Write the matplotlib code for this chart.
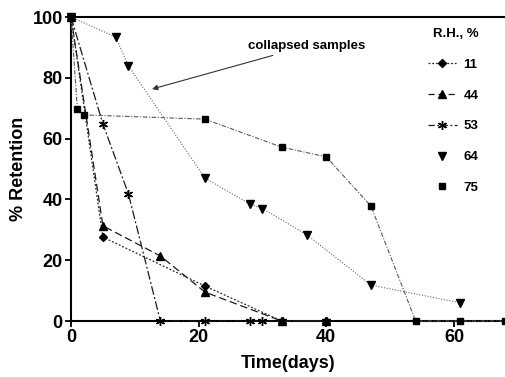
"""
% Retention vs time at different relative humidities.
"""
import matplotlib
matplotlib.use("Agg")
import matplotlib.pyplot as plt
from matplotlib.lines import Line2D

# RH 11 %
DAYS_11 = [0, 5, 21, 33, 40]
RET_11 = [100, 27.6, 11.5, 0, 0]
# RH 44 %
DAYS_44 = [0, 5, 14, 21, 33, 40]
RET_44 = [100, 31.3, 21.4, 9.5, 0, 0]
# RH 53 %
DAYS_53 = [0, 5, 9, 14, 21, 28, 30, 33, 40]
RET_53 = [100, 64.8, 41.8, 0, 0, 0, 0, 0, 0]
# RH 64 %
DAYS_64 = [0, 7, 9, 21, 28, 30, 37, 47, 61]
RET_64 = [100, 93.4, 83.9, 47, 38.5, 37, 28.3, 11.8, 6]
# RH 75 %
DAYS_75 = [0, 1, 2, 21, 33, 40, 47, 54, 61, 68]
RET_75 = [100, 69.7, 67.8, 66.4, 57.2, 54, 37.8, 0, 0, 0]

RH_LABELS = ["11", "44", "53", "64", "75"]

plt.rcParams["font.family"] = ["Liberation Sans", "DejaVu Sans"]
plt.rcParams["font.weight"] = "bold"

fig = plt.figure(figsize=(5.05, 3.77), dpi=100)
ax = fig.add_axes([0.1406, 0.1485, 0.8594, 0.8064])

ax.plot(DAYS_11, RET_11, color="0.15", lw=0.9, ls=(0, (1.5, 1.5)),
        marker="D", ms=4, mfc="black", mec="black", clip_on=False, zorder=3)
ax.plot(DAYS_44, RET_44, color="0.1", lw=0.9, ls=(0, (6, 3)),
        marker="^", ms=5.5, mfc="black", mec="black", clip_on=False, zorder=3)
ax.plot(DAYS_53, RET_53, color="0.1", lw=0.9, ls=(0, (7, 2, 1.5, 2)),
        marker=(6, 2, 0), ms=6.5, mfc="black", mec="black", mew=1.0, clip_on=False, zorder=3)
ax.plot(DAYS_64, RET_64, color="0.4", lw=0.8, ls=(0, (1, 1.5)),
        marker="v", ms=5.5, mfc="black", mec="black", clip_on=False, zorder=3)
ax.plot(DAYS_75, RET_75, color="0.35", lw=0.8, ls=(0, (4, 1.5, 1, 1.5)),
        marker="s", ms=5, mfc="black", mec="black", clip_on=False, zorder=3)

ax.set_xlim(0, 68.0)
ax.set_ylim(0, 100)
ax.set_xticks([0, 20, 40, 60])
ax.set_yticks([0, 20, 40, 60, 80, 100])
for s in ["left", "bottom", "top"]:
    ax.spines[s].set_linewidth(1.5)
ax.spines["right"].set_visible(False)
ax.tick_params(direction="out", length=4, width=1.3, labelsize=13, pad=2)
for lab in ax.get_xticklabels() + ax.get_yticklabels():
    lab.set_fontweight("bold")

ax.set_xlabel("Time(days)", fontsize=13, fontweight="bold", labelpad=6)
ax.set_ylabel("% Retention", fontsize=13, fontweight="bold", labelpad=4)

ax.annotate("collapsed samples", xy=(12.7, 76.3), xytext=(27.8, 90.5),
            fontsize=9.5, fontweight="bold", va="center", ha="left",
            arrowprops=dict(arrowstyle="-|>", color="0.2", lw=0.8,
                            mutation_scale=8, shrinkA=2, shrinkB=0))

handles = [
    Line2D([], [], color="0.15", lw=0.9, ls=(0, (1.5, 1.5)), marker="D", ms=4,
           mfc="black", mec="black"),
    Line2D([], [], color="0.1", lw=0.9, ls=(0, (5, 3)), marker="^", ms=5.5,
           mfc="black", mec="black"),
    Line2D([], [], color="0.1", lw=0.9, ls=(0, (5, 2, 1.5, 2)), marker=(6, 2, 0), ms=6.5,
           mfc="black", mec="black"),
    Line2D([], [], ls="none", marker="v", ms=5.5, mfc="black", mec="black"),
    Line2D([], [], ls="none", marker="s", ms=5, mfc="black", mec="black"),
]
leg = ax.legend(handles, RH_LABELS, title="R.H., %", loc="upper left",
                bbox_to_anchor=(0.81, 0.98), frameon=False, fontsize=9.5,
                title_fontproperties={"weight": "bold", "size": 9.5},
                handlelength=2.2, handletextpad=0.5, labelspacing=1.4,
                borderaxespad=0)
for t in leg.get_texts():
    t.set_fontweight("bold")
leg._legend_box.align = "right"

fig.savefig("out.png", dpi=100)
